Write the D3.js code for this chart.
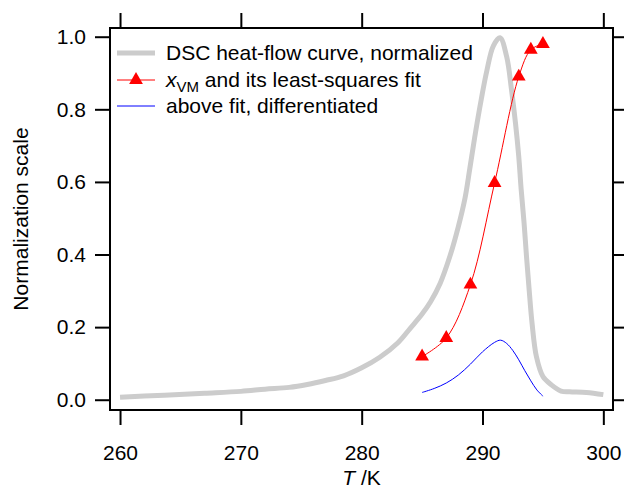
<!DOCTYPE html>
<html>
<head>
<meta charset="utf-8">
<script src="https://cdn.jsdelivr.net/npm/d3@7"></script>
<style>
  html, body { margin: 0; padding: 0; background: #fff; }
  svg { display: block; font-family: "Liberation Sans", Arial, sans-serif; }
</style>
</head>
<body>
<svg id="chart" width="624" height="488"></svg>
<script>
// ---- Data ----
const dscT = [260, 262, 264.5, 267, 270, 272, 274, 275.5, 277, 278.5, 280, 281.5, 283, 284, 285,
  285.7, 286.5, 287.3, 288, 288.55, 288.95, 289.35, 289.9, 290.35, 290.9, 291.45, 292.0, 292.4,
  292.73, 293.0, 293.2, 293.44, 293.64, 293.86, 294.1, 294.46, 295.0, 295.7, 296.5, 297.2, 298.6, 300.0];
const dscV = [0.007, 0.010, 0.014, 0.018, 0.023, 0.029, 0.034, 0.042, 0.053, 0.066, 0.088, 0.117, 0.157, 0.196, 0.236,
  0.270, 0.321, 0.395, 0.477, 0.555, 0.637, 0.722, 0.828, 0.905, 0.975, 0.997, 0.945, 0.854,
  0.762, 0.670, 0.579, 0.487, 0.395, 0.303, 0.211, 0.119, 0.064, 0.041, 0.024, 0.022, 0.020, 0.014];

const xvmT = [285, 287, 289, 291, 293, 294, 295];
const xvmV = [0.119, 0.170, 0.317, 0.597, 0.890, 0.964, 0.980];

const derivT = [285, 286, 287, 288, 289, 290, 291, 291.5, 292, 292.5, 293, 293.5, 294, 294.5, 295];
const derivV = [0.020, 0.031, 0.046, 0.068, 0.098, 0.132, 0.158, 0.164, 0.155, 0.136, 0.110, 0.080, 0.052, 0.027, 0.010];

const xTicks = [260, 270, 280, 290, 300];
const yTicks = [0.0, 0.2, 0.4, 0.6, 0.8, 1.0];

const legendLabels = ["DSC heat-flow curve, normalized", "and its least-squares fit", "above fit, differentiated"];

// ---- Layout ----
const L = 110, R = 613, T = 28, B = 410;
const svg = d3.select("#chart");

const x = d3.scaleLinear().domain([259.17, 300.8]).range([L, R]);
const y = d3.scaleLinear().domain([-0.0283, 1.024]).range([B, T]);

const smooth = d3.line().x(d => x(d[0])).y(d => y(d[1])).curve(d3.curveCatmullRom.alpha(0.5));

// Gray DSC curve
svg.append("path")
  .datum(d3.zip(dscT, dscV))
  .attr("d", smooth)
  .attr("fill", "none")
  .attr("stroke", "#cccccc")
  .attr("stroke-width", 5)
  .attr("stroke-linejoin", "round");

// Red fit line
svg.append("path")
  .datum(d3.zip(xvmT, xvmV))
  .attr("d", smooth)
  .attr("fill", "none")
  .attr("stroke", "#ff0000")
  .attr("stroke-width", 1);

// Blue derivative line
svg.append("path")
  .datum(d3.zip(derivT, derivV))
  .attr("d", smooth)
  .attr("fill", "none")
  .attr("stroke", "#0000ff")
  .attr("stroke-width", 1);

// Triangles
const tri = d3.symbol().type(d3.symbolTriangle).size(82);
svg.selectAll(".tri")
  .data(d3.zip(xvmT, xvmV))
  .join("path")
  .attr("class", "tri")
  .attr("d", tri)
  .attr("transform", d => `translate(${x(d[0])},${y(d[1])})`)
  .attr("fill", "#ff0000");

// Frame
svg.append("rect")
  .attr("x", L).attr("y", T)
  .attr("width", R - L).attr("height", B - T)
  .attr("fill", "none").attr("stroke", "#000").attr("stroke-width", 2);

// Axes (ticks outside on all four sides)
const tickLen = 15;
const fontSize = 21;
const bottomAxis = d3.axisBottom(x).tickValues(xTicks).tickSize(tickLen).tickPadding(20).tickFormat(d3.format("d"));
const topAxis = d3.axisTop(x).tickValues(xTicks).tickSize(tickLen).tickFormat("");
const leftAxis = d3.axisLeft(y).tickValues(yTicks).tickSize(tickLen).tickPadding(9).tickFormat(d3.format(".1f"));
const rightAxis = d3.axisRight(y).tickValues(yTicks).tickSize(tickLen).tickFormat("");

function style(g) {
  g.select(".domain").remove();
  g.selectAll(".tick line").attr("stroke", "#000").attr("stroke-width", 2);
  g.selectAll(".tick text").attr("fill", "#000").attr("font-size", fontSize)
    .attr("font-family", "'Liberation Sans', Arial, sans-serif");
}
svg.append("g").attr("transform", `translate(0,${B})`).call(bottomAxis).call(style);
svg.append("g").attr("transform", `translate(0,${T})`).call(topAxis).call(style);
svg.append("g").attr("transform", `translate(${L},0)`).call(leftAxis).call(style);
svg.append("g").attr("transform", `translate(${R},0)`).call(rightAxis).call(style);

// Axis titles
svg.append("text")
  .attr("transform", `translate(28,${(T + B) / 2}) rotate(-90)`)
  .attr("text-anchor", "middle")
  .attr("font-size", fontSize)
  .text("Normalization scale");

const xt = svg.append("text")
  .attr("x", (L + R) / 2).attr("y", 485)
  .attr("text-anchor", "middle")
  .attr("font-size", fontSize);
xt.append("tspan").attr("font-style", "italic").text("T");
xt.append("tspan").text(" /K");

// Legend
const lx0 = 117, lx1 = 155, tx = 166;
const rows = [53, 80, 106];
svg.append("line").attr("x1", lx0).attr("x2", lx1).attr("y1", rows[0]).attr("y2", rows[0])
  .attr("stroke", "#cccccc").attr("stroke-width", 5);
svg.append("line").attr("x1", lx0).attr("x2", lx1).attr("y1", rows[1]).attr("y2", rows[1])
  .attr("stroke", "#ff0000").attr("stroke-width", 1);
svg.append("path").attr("d", tri).attr("transform", `translate(${(lx0 + lx1) / 2},${rows[1]})`).attr("fill", "#ff0000");
svg.append("line").attr("x1", lx0).attr("x2", lx1).attr("y1", rows[2]).attr("y2", rows[2])
  .attr("stroke", "#0000ff").attr("stroke-width", 1);

svg.append("text").attr("x", tx).attr("y", rows[0] + 7).attr("font-size", fontSize).text(legendLabels[0]);
const t2 = svg.append("text").attr("x", tx).attr("y", rows[1] + 7).attr("font-size", fontSize);
t2.append("tspan").attr("font-style", "italic").text("x");
t2.append("tspan").attr("font-size", 15).attr("dy", 5).text("VM");
t2.append("tspan").attr("dy", -5).text(" " + legendLabels[1]);
svg.append("text").attr("x", tx).attr("y", rows[2] + 7).attr("font-size", fontSize).text(legendLabels[2]);
</script>
</body>
</html>
